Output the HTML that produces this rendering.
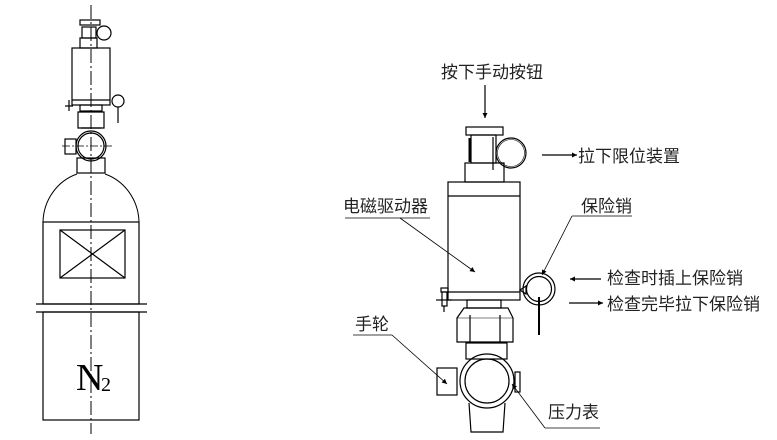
<!DOCTYPE html>
<html><head><meta charset="utf-8"><style>
html,body{margin:0;padding:0;background:#fff;}
svg{display:block}
text{font-family:"Liberation Sans","Noto Sans CJK SC",sans-serif;font-size:17px;fill:#222}
</style></head><body>
<svg width="777" height="440" viewBox="0 0 777 440" xmlns="http://www.w3.org/2000/svg">
<defs><marker id="ar" viewBox="0 0 10 10" refX="10" refY="5" markerWidth="9" markerHeight="5" orient="auto" markerUnits="userSpaceOnUse"><path d="M0,0L10,5L0,10z" fill="#000"/></marker>
<marker id="ar2" viewBox="0 0 10 10" refX="10" refY="5" markerWidth="12" markerHeight="5" orient="auto" markerUnits="userSpaceOnUse"><path d="M0,0L10,5L0,10z" fill="#000"/></marker></defs>
<g fill="none" stroke="#000" stroke-width="1.2">
<!-- left bottle -->
<line x1="91" y1="5" x2="91" y2="434" stroke-dasharray="14,3,2,3" stroke-width="1"/>
<rect x="80" y="20" width="20" height="5"/>
<rect x="82" y="27" width="14" height="11"/>
<circle cx="104" cy="33" r="7"/>
<rect x="80" y="38" width="17" height="10"/>
<rect x="72" y="48" width="38" height="57"/>
<line x1="72" y1="100" x2="110" y2="100"/>
<circle cx="118" cy="101" r="6"/><line x1="118" y1="107" x2="118" y2="123"/>
<line x1="69" y1="100" x2="69" y2="111"/><line x1="65" y1="106" x2="73" y2="106"/>
<rect x="80" y="105" width="22" height="6"/>
<path d="M78,112 L104,112 L104,128 L78,128 Z"/>
<line x1="81" y1="128" x2="101" y2="128"/>
<circle cx="91" cy="146" r="15"/><circle cx="91" cy="146" r="13"/>
<rect x="65" y="139" width="11" height="15"/>
<line x1="62" y1="146" x2="113" y2="146" stroke-dasharray="8,2,2,2" stroke-width="0.8"/>
<rect x="77" y="158" width="28" height="15"/>
<path d="M43,222 A50,52 0 0 1 77,174 M105,174 A50,52 0 0 1 139,222" stroke-width="1"/>
<rect x="43" y="222" width="96" height="82"/>
<rect x="60" y="230" width="65" height="48"/>
<line x1="60" y1="230" x2="125" y2="278"/><line x1="125" y1="230" x2="60" y2="278"/>
<line x1="36" y1="304" x2="147" y2="304"/><line x1="36" y1="312" x2="147" y2="312"/>
<rect x="43" y="312" width="96" height="108"/>
<!-- right valve -->
<rect x="466" y="127" width="37" height="8"/>
<rect x="471" y="135" width="25" height="28"/>
<line x1="470" y1="138" x2="470" y2="162" stroke-width="3"/>
<line x1="493" y1="137" x2="493" y2="170"/>
<circle cx="511" cy="153" r="15"/><circle cx="511" cy="153" r="13.5" stroke-width="0.6"/>
<rect x="465" y="163" width="39" height="19"/>
<rect x="448" y="182" width="72" height="118"/>
<line x1="448" y1="196" x2="520" y2="196"/>
<line x1="448" y1="292" x2="520" y2="292"/>
<circle cx="539" cy="289" r="16"/><circle cx="539" cy="289" r="12.5"/>
<line x1="539" y1="297" x2="539" y2="335" stroke-width="2"/>
<path d="M520,290 L526,286 L526,294 Z"/>
<rect x="441" y="288" width="7" height="4"/>
<rect x="442" y="292" width="5" height="14"/><line x1="436" y1="300" x2="452" y2="300"/><line x1="444" y1="306" x2="444" y2="312"/>
<rect x="467" y="300" width="34" height="8"/>
<path d="M464,308 L508,308 L513,318 L513,342 L457,342 L457,318 Z"/>
<line x1="470" y1="315" x2="470" y2="342"/><line x1="500" y1="315" x2="500" y2="342"/>
<line x1="457" y1="318" x2="513" y2="318" stroke-width="0.6"/>
<rect x="466" y="343" width="41" height="16"/>
<circle cx="487" cy="381" r="27"/><circle cx="487" cy="381" r="22"/>
<rect x="437" y="368" width="20" height="27"/>
<rect x="515" y="372" width="5" height="20"/>
<path d="M469,403 L471,432 L503,432 L505,403"/>
<!-- leaders -->
<line x1="485" y1="85" x2="485" y2="118" marker-end="url(#ar)"/>
<line x1="542" y1="155" x2="577" y2="155" marker-end="url(#ar2)"/>
<polyline points="345,218 430,218" stroke-width="0.8"/>
<line x1="400" y1="218" x2="475" y2="272" stroke-width="0.8" marker-end="url(#ar)"/>
<line x1="572" y1="216" x2="632" y2="216" stroke-width="0.8"/>
<line x1="572" y1="216" x2="542" y2="275" stroke-width="0.8" marker-end="url(#ar)"/>
<line x1="601" y1="279" x2="570" y2="279" marker-end="url(#ar2)"/>
<line x1="569" y1="303" x2="603" y2="303" marker-end="url(#ar2)"/>
<line x1="353" y1="335" x2="392" y2="335" stroke-width="0.8"/>
<line x1="392" y1="335" x2="447" y2="384" stroke-width="0.8" marker-end="url(#ar)"/>
<line x1="545" y1="428" x2="600" y2="428" stroke-width="0.8"/>
<line x1="545" y1="428" x2="512" y2="384" stroke-width="0.8" marker-end="url(#ar)"/>
</g>
<text x="76" y="390" style="font-family:'Liberation Serif',serif;font-size:38px;fill:#000">N</text>
<text x="101" y="391" style="font-family:'Liberation Serif',serif;font-size:20px;fill:#000">2</text>
<text x="441" y="78">按下手动按钮</text>
<text x="578" y="162">拉下限位装置</text>
<text x="343" y="212">电磁驱动器</text>
<text x="581" y="212">保险销</text>
<text x="607" y="284">检查时插上保险销</text>
<text x="607" y="310">检查完毕拉下保险销</text>
<text x="355" y="330">手轮</text>
<text x="548" y="418">压力表</text>
</svg>
</body></html>
